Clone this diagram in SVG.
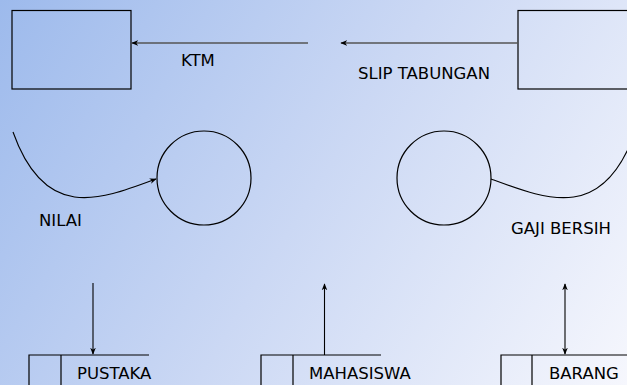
<svg xmlns="http://www.w3.org/2000/svg" width="627" height="385" viewBox="0 0 627 385">
<defs>
<linearGradient id="bg" x1="0" y1="0" x2="627" y2="385" gradientUnits="userSpaceOnUse">
<stop offset="0" stop-color="#9dbaec"/>
<stop offset="0.5" stop-color="#cbd8f4"/>
<stop offset="1" stop-color="#f6f7fd"/>
</linearGradient>
<marker id="ah" viewBox="0 0 10 10" refX="9" refY="5" markerWidth="7" markerHeight="7" orient="auto-start-reverse" markerUnits="userSpaceOnUse">
<path d="M0,1 L10,5 L0,9 L3,5 Z" fill="#000"/>
</marker>
</defs>
<style>
.box{fill:none;stroke:#000;stroke-width:1.2}
.ln{fill:none;stroke:#000;stroke-width:1.1}
.gl{fill:none;stroke:#555;stroke-width:1.5}
.t{font-family:"DejaVu Sans",Verdana,sans-serif;font-size:16.5px;fill:#000}
</style>
<rect x="0" y="0" width="627" height="385" fill="url(#bg)"/>
<g id="ent-left"><rect class="box" x="12" y="10.5" width="119" height="78.5"/></g>
<g id="ent-right"><rect class="box" x="518" y="10.5" width="120" height="78.5"/></g>
<g id="proc-left"><circle class="box" cx="204" cy="178" r="47"/></g>
<g id="proc-right"><circle class="box" cx="444" cy="178" r="47"/></g>
<g id="store-pustaka">
<path class="box" d="M29,385 V355 H149 M61,355 V385"/>
<text class="t" x="77" y="379">PUSTAKA</text>
</g>
<g id="store-mahasiswa">
<path class="box" d="M261,385 V355 H381 M293,355 V385"/>
<text class="t" x="309" y="379">MAHASISWA</text>
</g>
<g id="store-barang">
<path class="box" d="M501,385 V355 H627 M532,355 V385"/>
<text class="t" x="549" y="379">BARANG</text>
</g>
<g id="connectors">
<line class="gl" x1="308" y1="43" x2="132" y2="43" marker-end="url(#ah)"/>
<line class="gl" x1="518" y1="43" x2="341" y2="43" marker-end="url(#ah)"/>
<path class="ln" d="M13,132 C45,222 100,200 156,179" marker-end="url(#ah)"/>
<path class="ln" d="M491,179 C548,200 603,222 635,132"/>
<line class="ln" x1="93" y1="283" x2="93" y2="354" marker-end="url(#ah)"/>
<line class="ln" x1="324.5" y1="355" x2="324.5" y2="284" marker-end="url(#ah)"/>
<line class="ln" x1="565" y1="284" x2="565" y2="354" marker-start="url(#ah)" marker-end="url(#ah)"/>
<text class="t" x="181" y="66">KTM</text>
<text class="t" x="358" y="79">SLIP TABUNGAN</text>
<text class="t" x="39" y="226">NILAI</text>
<text class="t" x="511" y="234">GAJI BERSIH</text>
</g>
</svg>
